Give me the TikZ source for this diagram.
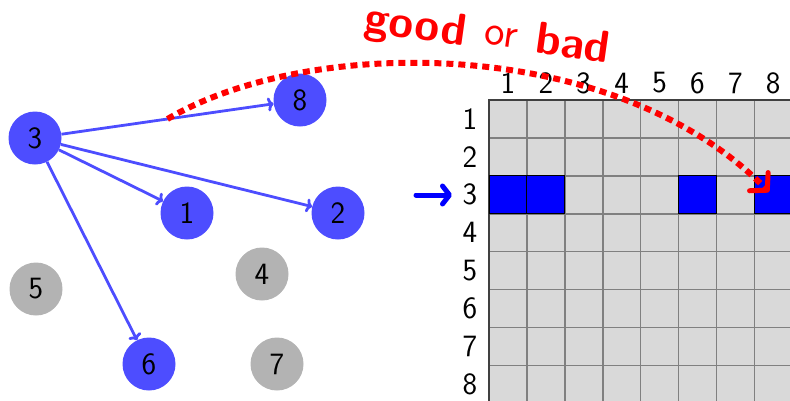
\documentclass[tikz,border=0pt]{standalone}
\usepackage{fontspec}
\usetikzlibrary{arrows.meta}
\definecolor{nodeblue}{RGB}{77,77,255}
\definecolor{nodegray}{RGB}{179,179,179}
\definecolor{cellgray}{RGB}{217,217,217}
\begin{document}
\begin{tikzpicture}[x=1pt,y=-1pt,
  vert/.style={circle,minimum size=53pt,inner sep=0pt,font=\fontsize{31}{36}\selectfont\sffamily},
  on/.style={vert,fill=nodeblue},
  off/.style={vert,fill=nodegray},
  edge/.style={draw=nodeblue,line width=2.8pt,-{To[length=6pt,width=14pt]}},
  lbl/.style={font=\fontsize{31}{36}\selectfont\sffamily,inner sep=0pt},
  hit/.style={fill=blue,draw=black,line width=1pt},
  word/.style={red,font=\sffamily,rotate=-8,anchor=base,inner sep=0pt},
]
\useasboundingbox (0,0) rectangle (790,400);
\clip (0,0) rectangle (790,400);

% graph vertices
\node[on]  (n3) at (35,138) {3};
\node[on]  (n8) at (300,100) {8};
\node[on]  (n1) at (187,213) {1};
\node[on]  (n2) at (338,213) {2};
\node[off] (n5) at (36,289) {5};
\node[off] (n4) at (262,274) {4};
\node[on]  (n6) at (149,364) {6};
\node[off] (n7) at (277,364) {7};

% out-edges of vertex 3
\draw[edge] (n3) -- coordinate[pos=0.5] (mid) (n8);
\draw[edge] (n3) -- (n1);
\draw[edge] (n3) -- (n2);
\draw[edge] (n3) -- (n6);

% adjacency matrix
\def\cs{37.9}
\def\gx{489}
\def\gy{100}
\fill[cellgray] (\gx,\gy) rectangle (\gx+8*\cs,\gy+8*\cs);
\foreach \i in {1,...,8}{
  \draw[gray,line width=1.6pt] (\gx+\i*\cs,\gy) -- (\gx+\i*\cs,\gy+8*\cs);
  \draw[gray,line width=1.6pt] (\gx,\gy+\i*\cs) -- (\gx+8*\cs,\gy+\i*\cs);
  \node[lbl] (c\i) at (\gx+\i*\cs-0.5*\cs,83) {\i};
  \node[lbl] (r\i) at (470,\gy+\i*\cs-0.5*\cs) {\i};
}
\draw[black!75,line width=1.6pt] (\gx,\gy+8*\cs) -- (\gx,\gy) -- (\gx+8*\cs,\gy);
\foreach \j in {1,2,6,8}{
  \draw[hit] (\gx+\j*\cs-\cs,\gy+2*\cs) rectangle (\gx+\j*\cs,\gy+3*\cs);
}
\coordinate (cell38) at (769,192);

% row pointer
\coordinate (pa) at (416,195);
\coordinate (pb) at (452,195);
\draw[blue,line width=5pt,line cap=round,-{Straight Barb[length=7pt,width=18pt,round]}] (pa) -- (pb);

% lookup curve
\draw[red,line width=6pt,dash pattern=on 7pt off 5pt,
  -{Straight Barb[length=12pt,width=26pt,round,line width=5pt]}]
  (mid) .. controls (310,35) and (615,35) .. (cell38);

% caption above the curve
\node[word,font=\fontsize{45}{50}\selectfont\sffamily\bfseries] (wgood) at (414,39) {good};
\node[word,font=\fontsize{43}{48}\selectfont\sffamily] (wor) at (500,46) {or};
\node[word,font=\fontsize{45}{50}\selectfont\sffamily\bfseries] (wbad) at (571,58) {bad};
\end{tikzpicture}
\end{document}
